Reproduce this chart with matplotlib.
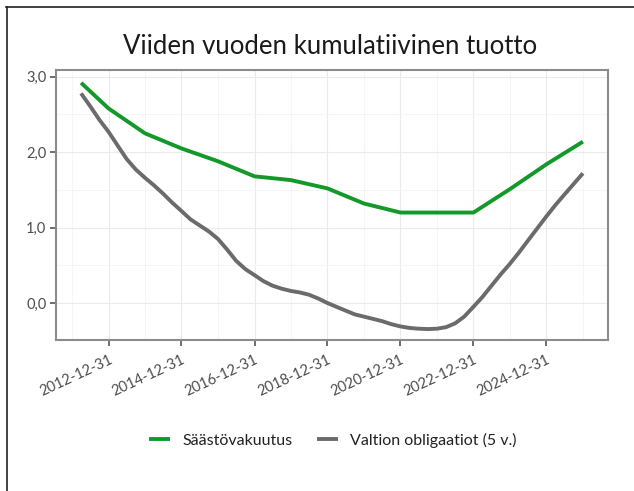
import matplotlib
matplotlib.use("Agg")
import matplotlib.pyplot as plt
import matplotlib.dates as mdates
from matplotlib.lines import Line2D
from matplotlib.ticker import FuncFormatter, MultipleLocator
import pandas as pd

title = "Viiden vuoden kumulatiivinen tuotto"
series_names = ["Säästövakuutus", "Valtion obligaatiot (5 v.)"]

green_dates = ["2012-03-31", "2012-12-31", "2013-12-31", "2014-12-31", "2015-12-31",
               "2016-12-31", "2017-12-31", "2018-12-31", "2019-12-31", "2020-12-31",
               "2021-12-31", "2022-12-31", "2023-12-31", "2024-12-31", "2025-12-31"]
green_values = [2.92, 2.58, 2.25, 2.05, 1.88, 1.68, 1.63, 1.52, 1.32, 1.20,
                1.20, 1.20, 1.51, 1.84, 2.14]

gray_dates = pd.date_range("2012-03-31", "2025-12-31", freq="QE")
gray_values = [2.78, 2.61, 2.43, 2.27, 2.09, 1.91, 1.77, 1.66, 1.56, 1.45, 1.33, 1.22,
               1.11, 1.03, 0.95, 0.85, 0.71, 0.56, 0.45, 0.37, 0.29, 0.23, 0.19, 0.16,
               0.14, 0.11, 0.06, 0.00, -0.05, -0.10, -0.15, -0.18, -0.21, -0.24, -0.28, -0.31,
               -0.33, -0.34, -0.345, -0.34, -0.32, -0.27, -0.18, -0.05, 0.08, 0.23, 0.38, 0.52,
               0.67, 0.83, 0.99, 1.15, 1.30, 1.44, 1.58, 1.72]

tick_dates = ["2012-12-31", "2014-12-31", "2016-12-31", "2018-12-31",
              "2020-12-31", "2022-12-31", "2024-12-31"]
y_ticks = [0.0, 1.0, 2.0, 3.0]

GREEN = "#12992a"
GRAY = "#6b6b6b"
TXT = "#4d4d4d"
FONT = ["Lato", "DejaVu Sans"]

plt.rcParams["font.family"] = FONT

fig = plt.figure(figsize=(6.34, 4.91), dpi=100)
ax = fig.add_axes([56/634, 1 - 340/491, (608 - 56)/634, (340 - 70)/491])

gd = pd.to_datetime(green_dates)
ax.plot(gd, green_values, color=GREEN, lw=2.8, solid_capstyle="butt", solid_joinstyle="round",
        label=series_names[0], zorder=3)
ax.plot(gray_dates, gray_values, color=GRAY, lw=2.8, solid_capstyle="butt", solid_joinstyle="round",
        label=series_names[1], zorder=3)

# limits (5% expansion)
x0 = mdates.date2num(pd.Timestamp("2012-03-31"))
x1 = mdates.date2num(pd.Timestamp("2025-12-31"))
pad = 0.05 * (x1 - x0)
ax.set_xlim(x0 - pad, x1 + pad)
ax.set_ylim(-0.49, 3.09)

ax.set_yticks(y_ticks)
ax.yaxis.set_major_formatter(FuncFormatter(lambda v, p: f"{v:.1f}".replace(".", ",")))
ax.yaxis.set_minor_locator(MultipleLocator(0.5))

td = pd.to_datetime(tick_dates)
ax.set_xticks(td)
ax.set_xticklabels([t for t in tick_dates], rotation=25, ha="right", rotation_mode="anchor")
minor = pd.to_datetime(["2011-12-31", "2013-12-31", "2015-12-31", "2017-12-31", "2019-12-31",
                        "2021-12-31", "2023-12-31", "2025-12-31"])
ax.set_xticks(minor, minor=True)

ax.grid(which="major", color="#ebebeb", lw=0.8)
ax.grid(which="minor", color="#f4f4f4", lw=0.6)
ax.set_axisbelow(True)

ax.tick_params(axis="both", which="major", direction="out", length=4, width=1.2,
               color="#555555", labelcolor=TXT, labelsize=10.5)
ax.tick_params(axis="both", which="minor", length=0)
ax.tick_params(axis="x", pad=5)
ax.tick_params(axis="y", pad=3)

for s in ax.spines.values():
    s.set_color("#8c8c8c")
    s.set_linewidth(1.5)

fig.text(330/634, 1 - 46/491, title, ha="center", va="center", fontsize=18.5, color="#1a1a1a")

leg = fig.legend(loc="center", bbox_to_anchor=(333/634, 1 - 440/491), ncol=2, frameon=False,
                 fontsize=11.5, handlelength=1.3, columnspacing=1.5, handletextpad=0.8)
for t in leg.get_texts():
    t.set_color("#222222")

# outer frame lines (top and left)
fig.add_artist(Line2D([6/634, 1], [1 - 6.5/491, 1 - 6.5/491], transform=fig.transFigure, color="#222222", lw=1.2))
fig.add_artist(Line2D([6.5/634, 6.5/634], [0, 1 - 6.5/491], transform=fig.transFigure, color="#222222", lw=1.2))

fig.savefig("out.png", dpi=100, facecolor="white")
